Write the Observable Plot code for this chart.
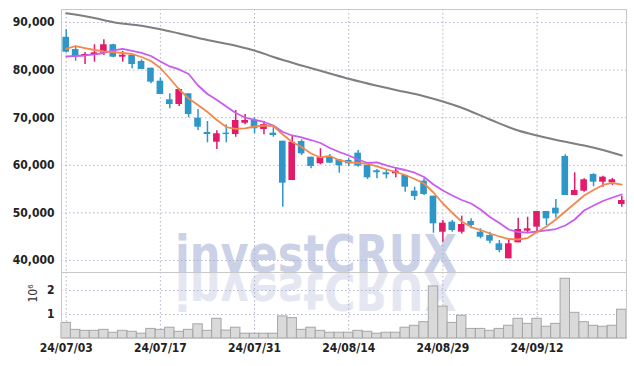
<!DOCTYPE html>
<html><head><meta charset="utf-8">
<script src="https://cdn.jsdelivr.net/npm/d3@7"></script>
<script src="https://cdn.jsdelivr.net/npm/@observablehq/plot@0.6"></script>
<style>
body{margin:0;background:#fff;}
#wrap{position:relative;width:634px;height:366px;overflow:hidden;}
#wm{position:absolute;left:0;top:0;}
#price,#vol{position:absolute;left:0;}
#price{top:0;}
#vol{top:272px;}
</style></head><body>
<div id="wrap">
<svg id="wm" width="634" height="366" xmlns:xlink="http://www.w3.org/1999/xlink">
  <g fill="#cbd1e7">
    <text id="wmt" x="175" y="272" textLength="282" lengthAdjust="spacingAndGlyphs" font-family="DejaVu Sans" font-weight="bold" font-size="51">investCRUX</text>
  </g>
  <use href="#wmt" xlink:href="#wmt" fill="#e4e7f2" transform="translate(0,545) scale(1,-1)"></use>
</svg>
<div id="price"></div><div id="vol"></div>
</div>
<script>
const dates = ["2024-07-03","2024-07-04","2024-07-05","2024-07-08","2024-07-09","2024-07-10","2024-07-11","2024-07-12","2024-07-15","2024-07-16","2024-07-17","2024-07-18","2024-07-19","2024-07-22","2024-07-23","2024-07-24","2024-07-25","2024-07-26","2024-07-29","2024-07-30","2024-07-31","2024-08-01","2024-08-02","2024-08-05","2024-08-06","2024-08-07","2024-08-08","2024-08-09","2024-08-12","2024-08-13","2024-08-14","2024-08-16","2024-08-19","2024-08-20","2024-08-21","2024-08-22","2024-08-23","2024-08-26","2024-08-27","2024-08-28","2024-08-29","2024-08-30","2024-09-02","2024-09-03","2024-09-04","2024-09-05","2024-09-06","2024-09-09","2024-09-10","2024-09-11","2024-09-12","2024-09-13","2024-09-19","2024-09-20","2024-09-23","2024-09-24","2024-09-25","2024-09-26","2024-09-27","2024-09-30"];
const open  = [86900,84330,82920,83220,83550,85320,82710,83070,81810,80400,77670,73760,72770,75020,69900,66900,64850,66750,66470,68840,69470,67520,66750,65060,56800,65000,61700,60310,61700,61150,61010,62550,59960,58840,58420,58230,57850,54560,56660,53510,45940,48050,45940,48190,45940,45240,43500,40350,43710,46160,47000,50290,50990,61850,53650,54560,58070,56450,56320,51760];
const high  = [88460,84800,83700,85320,86370,85440,83910,83070,82160,80400,78300,75020,76070,75020,71720,69200,67250,68500,71510,70670,69980,69200,68150,65060,66260,65350,61700,63470,62270,61150,61360,63110,59960,59120,58910,59470,57850,55400,57160,53510,48400,48400,49300,48750,46650,45940,44190,44360,48880,49090,50290,50290,52810,62200,58420,57160,58210,57710,57230,53510];
const low   = [83600,81870,81170,81660,83070,82600,81660,80270,80130,77120,74870,71870,72350,69980,67310,64730,63320,64730,65900,68500,66620,66410,65900,51200,56800,62060,59260,60100,60440,58340,59750,59610,57020,57160,57160,57370,54350,52600,53650,45730,43840,45940,45560,46650,44540,43500,41610,40350,43710,45610,46090,47350,48890,53650,53650,54350,55500,55400,55770,51200];
const close = [83760,82860,83280,83630,85320,82710,83130,81180,80130,77460,74870,72770,75920,70670,68000,66470,66620,66470,69410,69410,67670,68570,66260,56240,64850,62410,59750,61570,60440,59890,60310,59820,57370,58440,58000,58760,55400,53440,53860,47700,47840,46300,47560,47350,44890,44050,42100,43500,46510,46650,50290,48750,49790,53650,54700,56950,56450,57500,56950,52600];
const ma5   = [84470,85060,84640,84220,83910,83760,83590,83380,82750,81910,80440,78230,75920,74030,72670,71200,69520,68040,67670,67770,68150,68360,68250,66470,64890,63840,62480,61640,61950,61050,60650,60480,60310,59750,59120,58590,57960,57120,56170,54280,51970,49980,48190,47030,46400,45670,45040,44510,44410,44720,45980,47140,48610,50290,51970,53650,54810,55860,56280,55960];
const ma20  = [82860,82960,83070,83280,83590,84120,84470,84050,83630,82960,81810,80760,80130,79180,76760,74980,73720,72350,70990,70040,69520,69100,68360,66990,66260,65840,65310,64680,63630,62790,62060,61220,60480,60630,59960,59430,59010,58440,57540,55960,54700,53650,52710,51970,50710,49140,47880,46510,45980,45840,46090,46340,46610,47350,48610,50500,51550,52500,53230,53860];
const ma60Idx = [0,3,5,8,10,12,15,18,20,22,25,28,30,33,35,38,40,42,45,48,50,53,55,57,59];
const ma60    = [91930,90950,90070,89310,88590,87690,86320,85100,84120,82750,80970,79290,78170,76700,75820,74520,73400,72080,69620,67310,66260,64930,64160,63210,62060];
const volume = [650000,360000,320000,320000,360000,240000,320000,280000,200000,400000,360000,450000,280000,360000,590000,320000,820000,330000,450000,200000,200000,200000,200000,920000,850000,360000,450000,320000,240000,240000,240000,320000,280000,200000,240000,240000,450000,530000,680000,2170000,1330000,650000,950000,400000,400000,320000,400000,530000,820000,610000,820000,490000,610000,2490000,1070000,680000,530000,490000,530000,1200000];
const priceTicks = [40000,50000,60000,70000,80000,90000];
const volTicks = [1000000,2000000];
const tickDates = dates.filter((d,i)=>i%10===0);

const UP = "#e3196a", DOWN = "#2f96c8";
const rows = dates.map((d,i)=>({date:d, open:open[i], high:high[i], low:low[i], close:close[i], ma5:ma5[i], ma20:ma20[i], vol:volume[i], col: close[i]>=open[i]?UP:DOWN}));
const grayRows = ma60Idx.map((k,j)=>({date:dates[k], v:ma60[j]}));
const fmtDate = d => d.slice(2).replace(/-/g,"/");
const FONT = "'DejaVu Sans Condensed','DejaVu Sans',sans-serif";

const price = Plot.plot({
  width:634, height:272, marginTop:9, marginBottom:0, marginLeft:61, marginRight:8,
  style:{background:"transparent", fontFamily:FONT, fontSize:"12px", color:"#222", overflow:"visible"},
  x:{type:"band", domain:dates, padding:0, round:false, axis:null},
  y:{domain:[37475,92730], axis:null},
  color:{type:"identity"},
  marks:[
    Plot.gridY(priceTicks, {stroke:"#a4aed6", strokeOpacity:0.9, strokeDasharray:"1.5,2.5"}),
    Plot.gridX(tickDates, {x:d=>d, stroke:"#a8acc4", strokeOpacity:0.9, strokeDasharray:"1.5,2.5"}),
    Plot.frame({stroke:"#c8c8c8"}),
    Plot.axisY(priceTicks, {tickSize:0, tickPadding:7, tickFormat:d3.format(","), fontWeight:"bold", label:null}),
    Plot.ruleX(rows, {x:"date", y1:"low", y2:"high", stroke:"col", strokeWidth:1.5}),
    Plot.barY(rows, {x:"date", y1:"open", y2:"close", fill:"col", insetLeft:1.4, insetRight:1.4}),
    Plot.line(grayRows, {x:"date", y:"v", stroke:"#7f7f7f", strokeWidth:2, curve:"monotone-x"}),
    Plot.line(rows, {x:"date", y:"ma20", stroke:"#c95bf0", strokeWidth:1.8}),
    Plot.line(rows, {x:"date", y:"ma5", stroke:"#f0894e", strokeWidth:1.8})
  ]
});
document.getElementById("price").appendChild(price);

const vol = Plot.plot({
  width:634, height:94, marginTop:0, marginBottom:28, marginLeft:61, marginRight:8,
  style:{background:"transparent", fontFamily:FONT, fontSize:"12px", color:"#222", overflow:"visible"},
  x:{type:"band", domain:dates, padding:0, round:false, axis:null},
  y:{domain:[0,2750000], axis:null},
  marks:[
    Plot.gridY(volTicks, {stroke:"#a4aed6", strokeOpacity:0.9, strokeDasharray:"1.5,2.5"}),
    Plot.gridX(tickDates, {x:d=>d, stroke:"#a8acc4", strokeOpacity:0.9, strokeDasharray:"1.5,2.5"}),
    Plot.barY(rows, {x:"date", y:"vol", fill:"#d6d6d6", fillOpacity:0.9, stroke:"#a6a6a6", strokeWidth:1}),
    Plot.frame({stroke:"#c8c8c8"}),
    Plot.axisY(volTicks, {tickSize:0, tickPadding:7, tickFormat:d=>d/1e6, fontWeight:"bold", label:null}),
    Plot.axisX(tickDates, {tickSize:0, tickPadding:5, tickFormat:fmtDate, fontWeight:"bold", label:null}),
    Plot.text(["10⁶"], {frameAnchor:"left", dx:-28, dy:-3, rotate:-90, fill:"#333", fontSize:12})
  ]
});
document.getElementById("vol").appendChild(vol);
</script>
</body></html>
